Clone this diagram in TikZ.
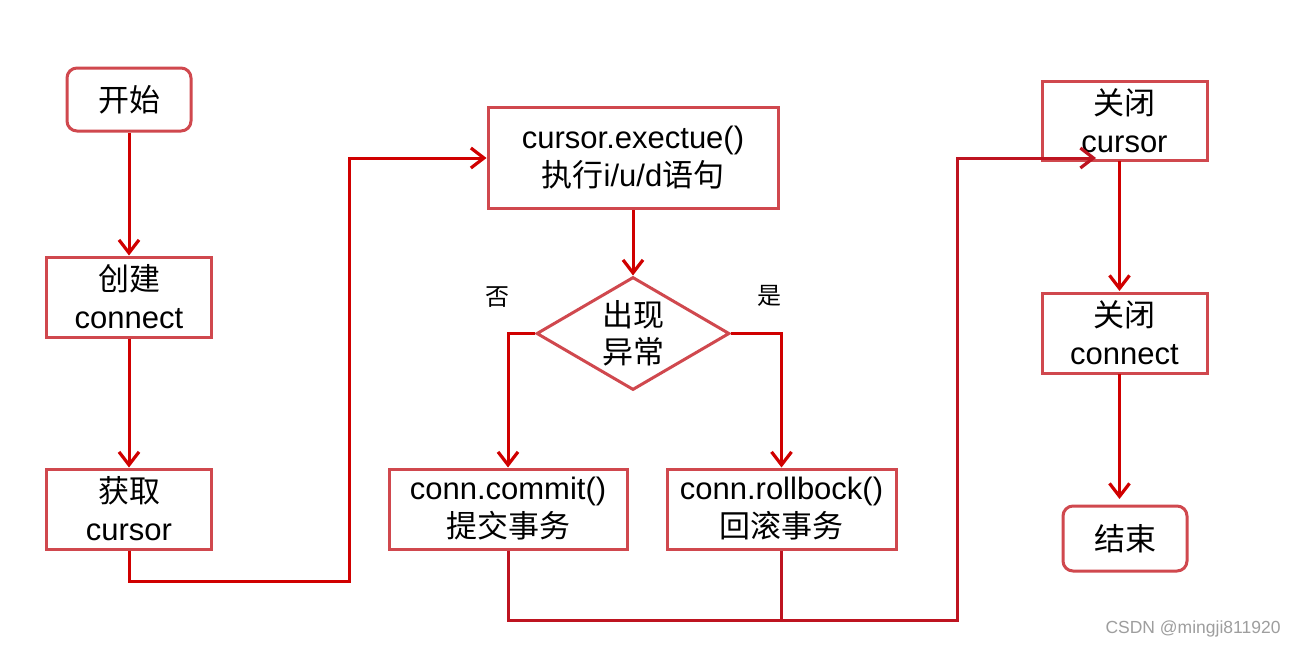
\documentclass[tikz,border=0pt]{standalone}
\usepackage{fontspec}
\setmainfont{Liberation Sans}
\newfontfamily\cjk{Noto Sans CJK SC}
\usetikzlibrary{arrows.meta,shapes.geometric}
\definecolor{boxred}{RGB}{208,72,78}
\definecolor{arrred}{RGB}{208,0,0}
\definecolor{darkred}{RGB}{190,20,32}
\begin{document}
\begin{tikzpicture}[x=1pt,y=-1pt,
  box/.style={draw=boxred, line width=3pt, fill=white, align=center,
    font=\fontsize{31}{38}\selectfont, inner sep=0pt},
  rbox/.style={box, rounded corners=10pt},
  dia/.style={draw=boxred, line width=3pt, fill=white, align=center, diamond,
    aspect=1.7, inner sep=0pt, minimum width=193pt, minimum height=113pt,
    font=\fontsize{31}{37}\selectfont},
  arr/.style={draw=arrred, line width=3pt, line join=miter,
    -{Straight Barb[length=13pt,width=20pt,line width=3.2pt]}},
  darr/.style={draw=darkred, line width=3pt, line join=miter,
    -{Straight Barb[length=13pt,width=20pt,line width=3.2pt]}},
  dline/.style={draw=darkred, line width=3pt},
  lab/.style={font=\fontsize{24}{28}\selectfont\cjk, inner sep=0pt},
  wm/.style={font=\fontsize{17.5}{20}\selectfont, text=black!38, inner sep=0pt}]
\useasboundingbox[fill=white] (0,0) rectangle (1297,648);

\node[rbox, minimum width=124pt, minimum height=63pt] (start) at (129,99.5) {\cjk 开始};
\node[box, minimum width=165pt, minimum height=80pt] (create) at (129,297) {{\cjk 创建}\\connect};
\node[box, minimum width=165pt, minimum height=80pt] (getcur) at (129,509) {{\cjk 获取}\\cursor};
\node[box, minimum width=290pt, minimum height=101pt] (exec) at (633,158) {cursor.exectue()\\{\cjk 执行}i/u/d{\cjk 语句}};
\node[dia] (dec) at (633,333.5) {\cjk 出现\\\cjk 异常};
\node[box, minimum width=238pt, minimum height=80pt] (commit) at (508,509) {conn.commit()\\{\cjk 提交事务}};
\node[box, minimum width=229pt, minimum height=80pt] (rollb) at (781.5,509) {conn.rollbock()\\{\cjk 回滚事务}};
\node[box, minimum width=165pt, minimum height=79pt] (closecur) at (1124.5,120.5) {{\cjk 关闭}\\cursor};
\node[box, minimum width=165pt, minimum height=80pt] (closecon) at (1124.5,333) {{\cjk 关闭}\\connect};
\node[rbox, minimum width=124pt, minimum height=65pt] (end) at (1125,538.5) {\cjk 结束};

\node[lab] (no) at (497,297) {否};
\node[lab] (yes) at (769,296) {是};
\node[wm] (mark) at (1193,629) {CSDN @mingji811920};

\coordinate (j1) at (349,581);
\coordinate (j2) at (957,620);
\coordinate (tip) at (1096,158);
\coordinate (c1) at (1119.5,161);
\coordinate (c2) at (1119.5,291);
\coordinate (c3) at (1119.5,374);
\coordinate (c4) at (1119.5,499);

\draw[arr] (start) -- (create);
\draw[arr] (create) -- (getcur);
\draw[arr] (getcur.south) |- (j1) |- (exec.west);
\draw[arr] (exec) -- (dec);
\draw[arr] (dec.west) -| (commit.north);
\draw[arr] (dec.east) -| (rollb.north);
\draw[dline] (rollb.south) -- (rollb.south |- j2);
\draw[darr] (commit.south) |- (j2) |- (tip);
\draw[arr] (c1) -- (c2);
\draw[arr] (c3) -- (c4);
\end{tikzpicture}
\end{document}
